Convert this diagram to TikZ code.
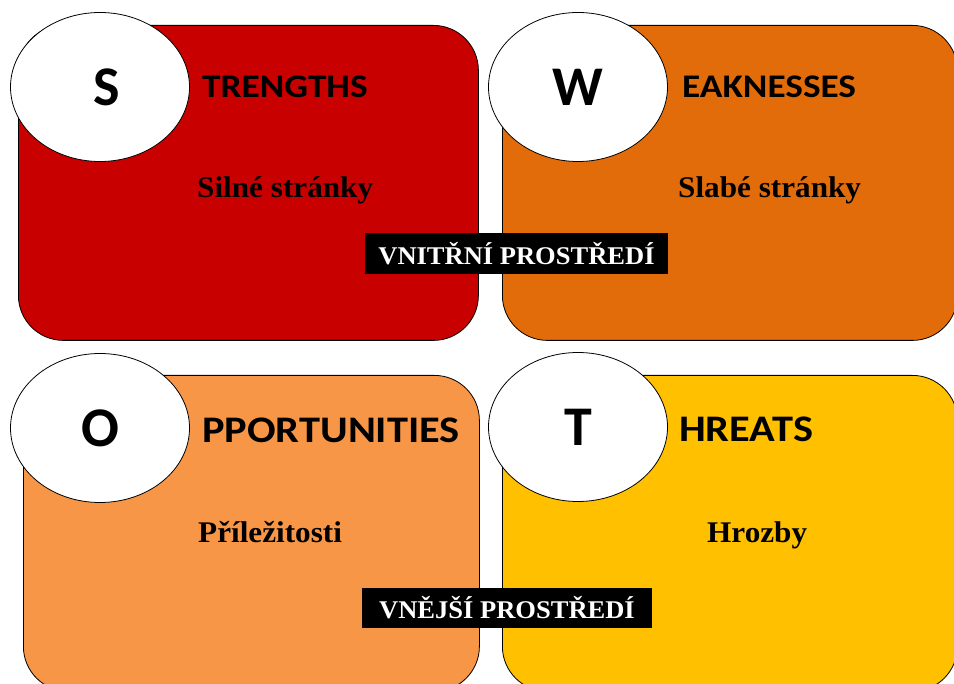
\documentclass[tikz,border=0pt]{standalone}
\usepackage{fontspec}
\setmainfont{Liberation Serif}
\setsansfont{Carlito}
% widened faces for the headings and the Czech texts
\newfontfamily\headfont[FakeStretch=1.13]{Carlito}
\newfontfamily\czfont[FakeStretch=1.04]{Liberation Serif}
\usetikzlibrary{shapes.geometric}

\definecolor{sred}{HTML}{C80000}
\definecolor{worange}{HTML}{E36C0A}
\definecolor{olight}{HTML}{F79646}
\definecolor{tgold}{HTML}{FFC000}

\begin{document}
\begin{tikzpicture}[x=1pt,y=-1pt,
    field/.style={draw=black,line width=.8pt,rounded corners=45pt,
        anchor=north west,inner sep=0pt},
    initial/.style={ellipse,draw=black,fill=white,line width=.8pt,
        minimum width=179pt,minimum height=149pt,inner sep=0pt,
        font={\fontsize{56}{60}\selectfont\sffamily\bfseries}},
    heading/.style={anchor=base west,inner sep=0pt,
        font={\fontsize{33}{36}\selectfont\headfont\bfseries}},
    bigheading/.style={heading,
        font={\fontsize{37.5}{40}\selectfont\headfont\bfseries}},
    czech/.style={anchor=base west,inner sep=0pt,
        font={\fontsize{30}{34}\selectfont\czfont\bfseries}},
    milieu/.style={fill=black,text=white,inner sep=0pt,
        font={\fontsize{25.5}{28}\selectfont\czfont\bfseries}},
    ]

    % Page
    \useasboundingbox (0,0) rectangle (954,684);
    \clip (0,0) rectangle (954,684);
    \fill[white] (0,0) rectangle (954,684);

    % The four fields
    \node[field,fill=sred,minimum width=460pt,minimum height=315pt]
        (sfield) at (18,25) {};
    \node[field,fill=worange,minimum width=455pt,minimum height=315pt]
        (wfield) at (502,25) {};
    \node[field,fill=olight,minimum width=456pt,minimum height=316pt]
        (ofield) at (23,375) {};
    \node[field,fill=tgold,minimum width=455pt,minimum height=316pt]
        (tfield) at (502,375) {};

    % Strengths
    \node[initial] (sinit) at (100,87) {\hspace{14pt}S};
    \node[heading] (shead) at (202,98) {TRENGTHS};
    \node[czech] (stext) at (197,198) {Silné stránky};

    % Weaknesses
    \node[initial] (winit) at (578,87) {W};
    \node[heading] (whead) at (682,98) {EAKNESSES};
    \node[czech] (wtext) at (678,198) {Slabé stránky};

    % Opportunities
    \node[initial] (oinit) at (100,428) {O};
    \node[bigheading] (ohead) at (202,443) {PPORTUNITIES};
    \node[czech] (otext) at (198,543) {Příležitosti};

    % Threats
    \node[initial] (tinit) at (578,427) {T};
    \node[bigheading] (thead) at (679,442) {HREATS};
    \node[czech] (ttext) at (707,543) {Hrozby};

    % Internal and external environment
    \node[milieu,minimum width=303pt,minimum height=41pt]
        (inner) at (516.5,253.5) {VNITŘNÍ PROSTŘEDÍ};
    \node[milieu,minimum width=290pt,minimum height=40pt]
        (outer) at (507,608) {VNĚJŠÍ PROSTŘEDÍ};
\end{tikzpicture}
\end{document}
